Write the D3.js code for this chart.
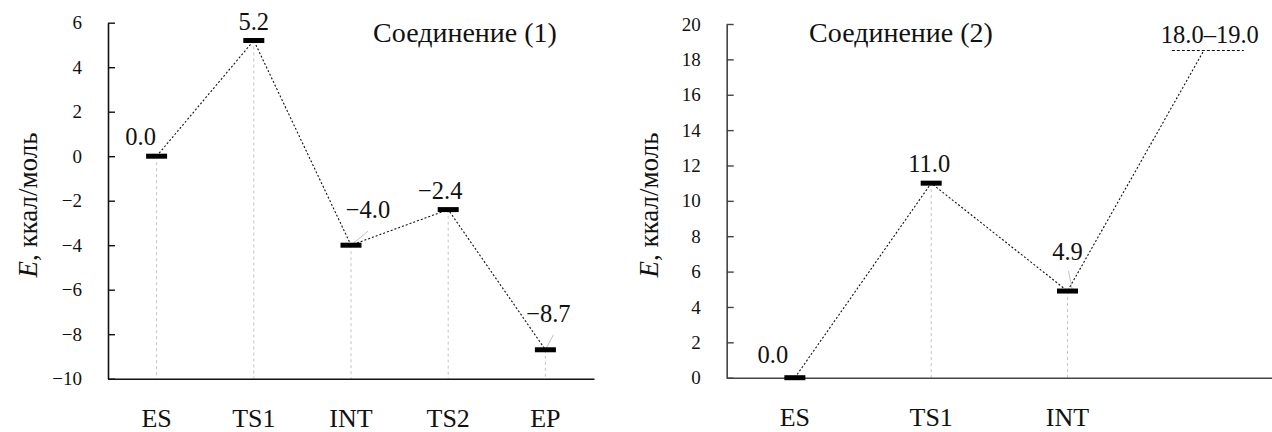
<!DOCTYPE html>
<html>
<head>
<meta charset="utf-8">
<script src="https://cdn.jsdelivr.net/npm/d3@7"></script>
<style>
  body { margin: 0; background: #fff; }
  svg { display: block; }
  text { font-family: "Liberation Serif", "Times New Roman", serif; }
</style>
</head>
<body>
<svg id="chart" width="1272" height="432"></svg>
<script>
// compound (1)
var cats1 = ['ES', 'TS1', 'INT', 'TS2', 'EP']
var energy1 = [0.0, 5.2, -4.0, -2.4, -8.7]
var labels1 = ['0.0', '5.2', '\u22124.0', '\u22122.4', '\u22128.7']
var yTicks1 = [-10, -8, -6, -4, -2, 0, 2, 4, 6]

// compound (2), last level given as a range
var cats2 = ['ES', 'TS1', 'INT', '']
var energy2 = [0.0, 11.0, 4.9, null]
var range2 = [18.0, 19.0]
var labels2 = ['0.0', '11.0', '4.9', '18.0\u201319.0']
var yTicks2 = [0, 2, 4, 6, 8, 10, 12, 14, 16, 18, 20]

var titles = ['Соединение (1)', 'Соединение (2)']

var FONT = 'Liberation Serif'
var svg = d3.select('#chart')

function fmtTick (d) {
  return d < 0 ? '\u2212' + Math.abs(d) : String(d)
}

function drawPanel (opt) {
  var x = d3.scaleBand().domain(opt.cats).range([opt.x0, opt.x1])
  var y = d3.scaleLinear().domain(opt.yDomain).range([opt.yBottom, opt.yTop])
  var cx = function (i) { return x(opt.cats[i]) + x.bandwidth() / 2 }

  var g = svg.append('g').attr('font-family', FONT)

  // value of each level (range midpoint for the last one)
  var vals = opt.values.map(function (v) {
    return v === null ? (opt.range[0] + opt.range[1]) / 2 : v
  })

  // gray drop lines
  g.selectAll('.drop')
    .data(vals)
    .enter()
    .filter(function (d, i) { return opt.values[i] !== null })
    .append('line')
    .attr('x1', function (d, i) { return cx(i) })
    .attr('x2', function (d, i) { return cx(i) })
    .attr('y1', function (d) { return y(d) })
    .attr('y2', opt.yBottom)
    .attr('stroke', '#c4c4c4')
    .attr('stroke-width', 1)
    .attr('stroke-dasharray', '3,3')

  // dotted connectors
  var line = d3.line()
    .x(function (d, i) { return cx(i) })
    .y(function (d) { return y(d) })
  g.append('path')
    .datum(vals)
    .attr('d', line)
    .attr('fill', 'none')
    .attr('stroke', '#111')
    .attr('stroke-width', 1.1)
    .attr('stroke-dasharray', '2,2')

  // axes
  var yAxis = d3.axisLeft(y)
    .tickValues(opt.yTicks)
    .tickFormat(fmtTick)
    .tickSizeInner(-7)
    .tickSizeOuter(0)
    .tickPadding(26)
  var ya = g.append('g')
    .attr('transform', 'translate(' + opt.x0 + ',0)')
    .call(yAxis)
    .attr('font-family', FONT)
  ya.select('.domain').attr('stroke', opt.axisColor).attr('stroke-width', 1.6)
  ya.selectAll('.tick line').attr('stroke', opt.axisColor).attr('stroke-width', 1.4)
  ya.selectAll('text').attr('font-size', 19).attr('fill', '#111')

  var xAxis = d3.axisBottom(x).tickSize(0).tickPadding(0)
  var xa = g.append('g')
    .attr('transform', 'translate(0,' + opt.yBottom + ')')
    .call(xAxis)
    .attr('font-family', FONT)
  xa.select('.domain').attr('stroke', opt.axisColor).attr('stroke-width', 1.6)
  xa.selectAll('text')
    .attr('y', 48).attr('dy', 0)
    .attr('font-size', 26).attr('fill', '#111')

  // leader lines
  g.selectAll('.leader')
    .data(opt.leaders)
    .enter()
    .append('line')
    .attr('x1', function (d) { return cx(d.i) + d.x1 })
    .attr('y1', function (d) { return y(vals[d.i]) + d.y1 })
    .attr('x2', function (d) { return cx(d.i) + d.x2 })
    .attr('y2', function (d) { return y(vals[d.i]) })
    .attr('stroke', '#c0c0c0')
    .attr('stroke-width', 1)

  // level bars
  g.selectAll('.bar')
    .data(vals)
    .enter()
    .filter(function (d, i) { return opt.values[i] !== null })
    .append('rect')
    .attr('x', function (d, i) { return cx(i) - 10.5 })
    .attr('y', function (d) { return y(d) - 2.5 })
    .attr('width', 21)
    .attr('height', 5)
    .attr('fill', '#000')

  // range level as dashed bar
  opt.values.forEach(function (v, i) {
    if (v !== null) return
    g.append('line')
      .attr('x1', cx(i) - 32).attr('x2', cx(i) + 40)
      .attr('y1', y(vals[i])).attr('y2', y(vals[i]))
      .attr('stroke', '#111')
      .attr('stroke-width', 1.1)
      .attr('stroke-dasharray', '3,2')
  })

  // value labels
  g.selectAll('.val')
    .data(opt.labels)
    .enter()
    .append('text')
    .attr('x', function (d, i) { return cx(i) + opt.labelOff[i][0] })
    .attr('y', function (d, i) { return y(vals[i]) + opt.labelOff[i][1] })
    .attr('text-anchor', 'middle')
    .attr('font-family', FONT)
    .attr('font-size', 24.5)
    .attr('fill', '#111')
    .text(function (d) { return d })

  // title
  g.append('text')
    .attr('x', opt.titleX)
    .attr('y', 42)
    .attr('text-anchor', 'middle')
    .attr('font-family', FONT)
    .attr('font-size', 28)
    .attr('fill', '#111')
    .text(opt.title)

  // y label
  var yl = g.append('text')
    .attr('transform', 'translate(' + opt.yLabelX + ',205) rotate(-90)')
    .attr('text-anchor', 'middle')
    .attr('font-family', FONT)
    .attr('font-size', 27)
    .attr('fill', '#111')
  yl.append('tspan').attr('font-style', 'italic').text('E')
  yl.append('tspan').text(', ккал/моль')
}

drawPanel({
  cats: cats1,
  values: energy1,
  labels: labels1,
  yTicks: yTicks1,
  yDomain: [-10, 6],
  x0: 108, x1: 594,
  yTop: 22.7, yBottom: 378.7,
  axisColor: '#111',
  title: titles[0], titleX: 465,
  yLabelX: 37,
  labelOff: [[-16, -11], [0, -11], [17, -27], [-8, -11], [3, -28]],
  leaders: [{ i: 2, x1: 17, y1: -14, x2: 0 }, { i: 4, x1: 8, y1: -15, x2: 0 }]
})

drawPanel({
  cats: cats2,
  values: energy2,
  range: range2,
  labels: labels2,
  yTicks: yTicks2,
  yDomain: [0, 20],
  x0: 726.7, x1: 1272,
  yTop: 24, yBottom: 377.7,
  axisColor: '#444',
  title: titles[1], titleX: 901,
  yLabelX: 658,
  labelOff: [[-22, -15], [-2, -11], [0, -31], [6, -8]],
  leaders: [{ i: 2, x1: 1, y1: -20, x2: 5 }]
})
</script>
</body>
</html>
